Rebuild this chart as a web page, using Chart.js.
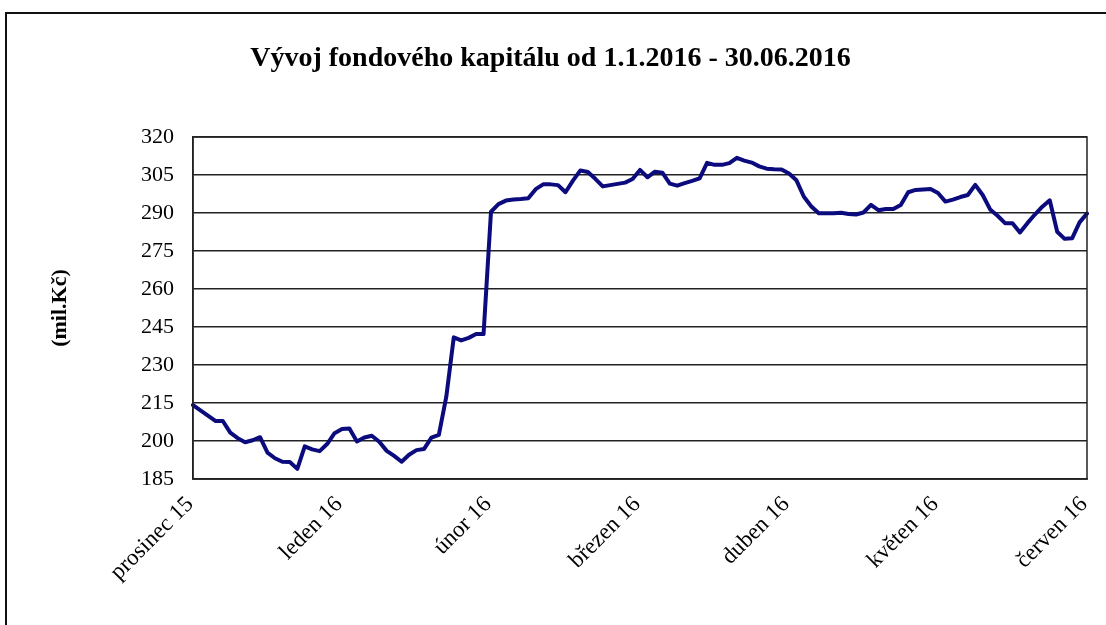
<!DOCTYPE html>
<html>
<head>
<meta charset="utf-8">
<script src="https://cdn.jsdelivr.net/npm/chart.js@4.4.1/dist/chart.umd.min.js"></script>
<style>
  html, body { margin: 0; padding: 0; background: #fff; overflow: hidden; }
  #wrap { position: absolute; left: 0; top: 0; width: 1106px; height: 625px; }
  #frame { position: absolute; left: 5px; top: 12px; width: 1300px; height: 800px; border-left: 2px solid #111; border-top: 2px solid #111; }
</style>
</head>
<body>
<div id="wrap">
  <div id="frame"></div>
  <canvas id="c" width="1106" height="625"></canvas>
</div>
<script>
// ---- Data ----
const chartTitle = 'Vývoj fondového kapitálu od 1.1.2016 - 30.06.2016';
const yAxisTitle = '(mil.Kč)';
const monthLabels = ['prosinec 15', 'leden 16', 'únor 16', 'březen 16', 'duben 16', 'květen 16', 'červen 16'];
const pointsPerMonth = 20;
const yTicks = [185, 200, 215, 230, 245, 260, 275, 290, 305, 320];

const fundCapital = [
  214.2, 212.1, 210.0, 207.9, 207.9, 203.3, 201.1, 199.5, 200.3, 201.5,
  195.4, 193.2, 191.8, 191.7, 189.0, 197.9, 196.7, 196.0, 198.8, 203.1,
  204.7, 204.9, 199.8, 201.4, 202.1, 199.7, 196.1, 194.1, 191.8, 194.6,
  196.4, 196.8, 201.3, 202.4, 217.5, 240.9, 239.7, 240.7, 242.2, 242.2,
  290.5, 293.5, 294.9, 295.3, 295.5, 295.8, 299.4, 301.3, 301.3, 301.0,
  298.2, 302.8, 306.8, 306.2, 303.5, 300.5, 301.0, 301.5, 302.0, 303.4,
  307.0, 304.1, 306.3, 305.9, 301.6, 300.8, 301.8, 302.7, 303.7, 309.8,
  309.0, 309.0, 309.7, 311.8, 310.7, 309.9, 308.4, 307.5, 307.3, 307.2,
  305.6, 302.9, 296.4, 292.6, 289.9, 289.9, 289.9, 290.1, 289.6, 289.4,
  290.2, 293.2, 291.1, 291.6, 291.6, 293.2, 298.2, 299.1, 299.3, 299.5,
  297.9, 294.5, 295.3, 296.3, 297.1, 301.1, 297.1, 291.4, 288.9, 286.0,
  286.0, 282.3, 286.0, 289.4, 292.5, 295.0, 282.6, 279.8, 280.0, 286.3,
  289.8
];

const categories = fundCapital.map((_, i) => (i % pointsPerMonth === 0 ? monthLabels[i / pointsPerMonth] : ''));

// ---- Plot frame plugin (right edge of plot area) ----
const plotFrame = {
  id: 'plotFrame',
  afterDatasetsDraw(chart) {
    const { ctx, chartArea: a } = chart;
    ctx.save();
    ctx.strokeStyle = '#222';
    ctx.lineWidth = 1.5;
    ctx.strokeRect(a.left, a.top, a.right - a.left, a.bottom - a.top);
    ctx.restore();
  }
};

const serif = '"Liberation Serif", "Times New Roman", serif';

new Chart(document.getElementById('c'), {
  type: 'line',
  data: {
    labels: categories,
    datasets: [{
      data: fundCapital,
      borderColor: '#0b0b7e',
      borderWidth: 4,
      pointRadius: 0,
      tension: 0,
      fill: false,
      borderJoinStyle: 'round',
      borderCapStyle: 'round'
    }]
  },
  options: {
    responsive: false,
    animation: false,
    devicePixelRatio: 1,
    layout: { padding: { left: 14, right: 19, top: 0, bottom: 0 } },
    plugins: {
      legend: { display: false },
      tooltip: { enabled: false },
      title: {
        display: true,
        text: chartTitle,
        color: '#000',
        font: { family: serif, size: 28, weight: 'bold' },
        padding: { top: 42, bottom: 61.4 }
      }
    },
    scales: {
      x: {
        type: 'category',
        offset: false,
        grid: { display: false, drawTicks: false },
        border: { display: true, color: '#222', width: 1.5 },
        ticks: {
          autoSkip: false,
          minRotation: 45,
          maxRotation: 45,
          padding: 12,
          labelOffset: -3,
          color: '#000',
          font: { family: serif, size: 23 },
          callback: function (value, index) { return categories[index]; }
        },
        afterFit: function (scale) { scale.height = 146; scale.paddingRight = 0; scale.paddingLeft = 0; }
      },
      y: {
        min: 185,
        max: 320,
        afterBuildTicks: function (scale) { scale.ticks = yTicks.map(v => ({ value: v })); },
        grid: { color: '#222', lineWidth: 1.5, drawTicks: false },
        border: { display: true, color: '#222', width: 1.5 },
        ticks: {
          padding: 19,
          color: '#000',
          font: { family: serif, size: 22 }
        },
        title: {
          display: true,
          text: yAxisTitle,
          color: '#000',
          font: { family: serif, size: 22, weight: 'bold' },
          padding: { top: 33, bottom: 0 }
        },
        afterFit: function (scale) { scale.width = 179; }
      }
    }
  },
  plugins: [plotFrame]
});
</script>
</body>
</html>
